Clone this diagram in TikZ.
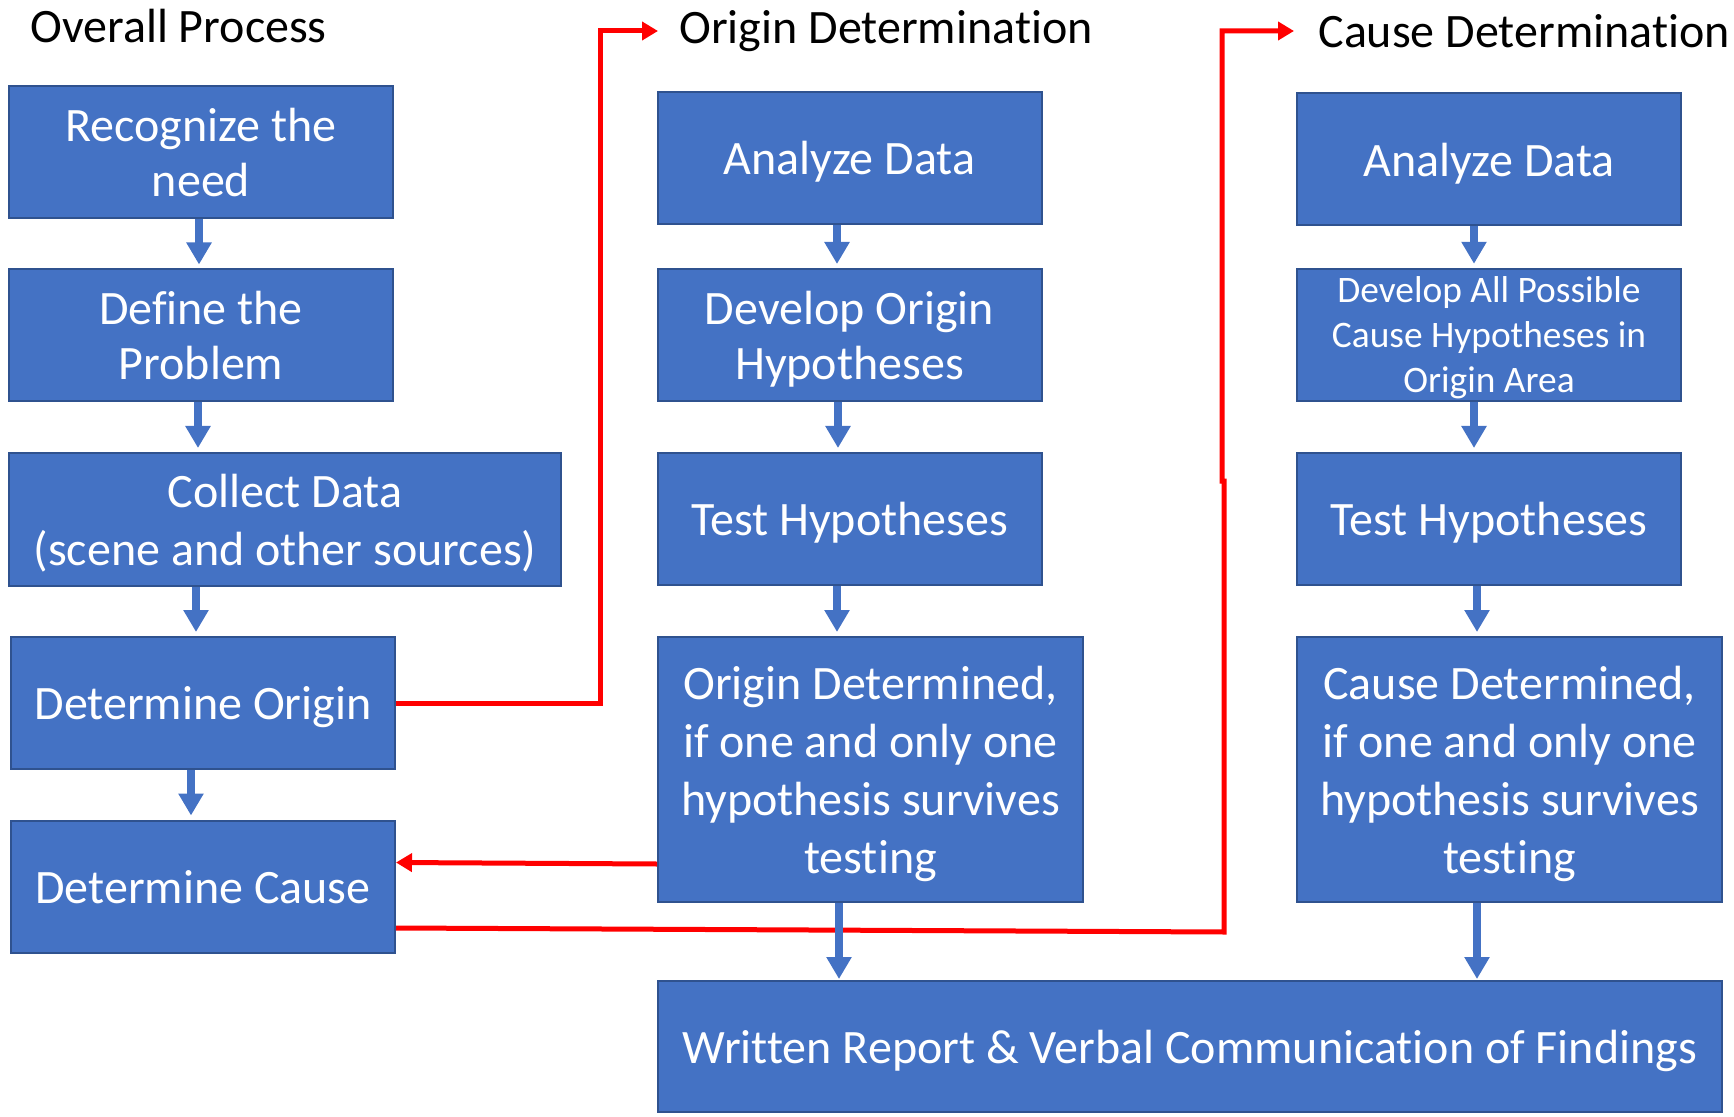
\documentclass[tikz,border=0pt]{standalone}
\usepackage{fontspec}
\setmainfont[Ligatures={NoCommon,NoContextual}]{Carlito}
\usetikzlibrary{arrows.meta}
\definecolor{boxblue}{HTML}{4472C4}
\definecolor{boxedge}{HTML}{2F528F}
\definecolor{linered}{HTML}{FF0000}
\newcommand{\bst}{\rule[-0.22em]{0pt}{1.135em}}
\begin{document}
\begin{tikzpicture}[x=0.5pt,y=-0.5pt,
 box/.style={draw=boxedge, fill=boxblue, line width=1pt, text=white, align=center, inner sep=0pt, font=\fontsize{24}{27.5}\selectfont},
 wide/.style={minimum width=192pt, minimum height=66pt},
 tall/.style={minimum width=212.5pt, minimum height=132.5pt, font=\fontsize{24}{29}\selectfont},
 heading/.style={anchor=west, inner sep=0pt, font=\fontsize{24}{28}\selectfont},
 flow/.style={draw=boxblue, line width=4pt, -{Triangle[width=12pt,length=11pt]}, shorten >=2pt},
 back/.style={draw=linered, line width=2.5pt, -{Triangle[width=9pt,length=8pt]}},
]
\useasboundingbox (0,0) rectangle (1734,1117);
% headings
\node[heading] (h1) at (30,26) {Overall Process};
\node[heading] (h2) at (679,31) {Origin Determination};
\node[heading] (h3) at (1318,31) {Cause Determination};
% overall column
\node[box,wide] (rec) at (201,152) {\bst Recognize the\\\bst need};
\node[box,wide] (def) at (201,335.5) {\bst Define the\\\bst Problem};
\node[box,minimum width=276pt,minimum height=66.5pt,font=\fontsize{24}{29}\selectfont] (col) at (285,519.5) {\bst Collect Data\\\bst (scene and other sources)};
\node[box,wide] (dor) at (203,703) {\bst Determine Origin};
\node[box,wide] (dca) at (203,886.5) {\bst Determine Cause};
% origin column
\node[box,wide] (oan) at (849.5,158) {\bst Analyze Data};
\node[box,wide] (odv) at (849.5,335) {\bst Develop Origin\\\bst Hypotheses};
\node[box,wide] (ote) at (849.5,519) {\bst Test Hypotheses};
\node[box,tall] (odt) at (870.5,769.5) {\bst Origin Determined,\\\bst if one and only one\\\bst hypothesis survives\\\bst testing};
% cause column
\node[box,wide] (can) at (1489,159.5) {\bst Analyze Data};
\node[box,wide,font=\fontsize{18.7}{22.5}\selectfont] (cdv) at (1489,335) {\bst Develop All Possible\\\bst Cause Hypotheses in\\\bst Origin Area};
\node[box,wide] (cte) at (1489,519) {\bst Test Hypotheses};
\node[box,tall] (cdt) at (1509.5,769.5) {\bst Cause Determined,\\\bst if one and only one\\\bst hypothesis survives\\\bst testing};
% report
\node[box,minimum width=532pt,minimum height=65.5pt] (wr) at (1190,1046.5) {\bst Written Report \& Verbal Communication of Findings};
% red connectors
\coordinate (ocorner) at (600,31);
\coordinate (otip) at (658,31);
\draw[back] (dor.east) -| (ocorner) -- (otip);
\draw[back] ([yshift=-47.25pt]odt.west) -- ([yshift=12pt]dca.east);
\coordinate (c1) at (1224,932);
\coordinate (c2) at (1224,481);
\coordinate (c3) at (1222,481);
\coordinate (c4) at (1222,31);
\coordinate (ctip) at (1294,31);
\draw[back] ([yshift=-20.75pt]dca.east) -- (c1) -- (c2) -- (c3) -- (c4) -- (ctip);
% blue arrows
\draw[flow] ([xshift=-1pt]rec.south) -- ([xshift=-1pt]rec.south |- def.north);
\draw[flow] ([xshift=-1.5pt]def.south) -- ([xshift=-1.5pt]def.south |- col.north);
\draw[flow] ([xshift=-3.5pt]dor.north |- col.south) -- ([xshift=-3.5pt]dor.north);
\draw[flow] ([xshift=-6pt]dor.south) -- ([xshift=-6pt]dor.south |- dca.north);
\draw[flow] ([xshift=-6.25pt]oan.south) -- ([xshift=-6.25pt]oan.south |- odv.north);
\draw[flow] ([xshift=-5.75pt]odv.south) -- ([xshift=-5.75pt]odv.south |- ote.north);
\draw[flow] ([xshift=-6.25pt]ote.south) -- ([xshift=-6.25pt]ote.south |- odt.north);
\draw[flow, shorten >=0.5pt] ([xshift=-15.75pt]odt.south) -- ([xshift=-15.75pt]odt.south |- wr.north);
\draw[flow] ([xshift=-7.5pt]can.south) -- ([xshift=-7.5pt]can.south |- cdv.north);
\draw[flow] ([xshift=-7.5pt]cdv.south) -- ([xshift=-7.5pt]cdv.south |- cte.north);
\draw[flow] ([xshift=-6pt]cte.south) -- ([xshift=-6pt]cte.south |- cdt.north);
\draw[flow, shorten >=0.5pt] ([xshift=-16.25pt]cdt.south) -- ([xshift=-16.25pt]cdt.south |- wr.north);
\end{tikzpicture}
\end{document}
